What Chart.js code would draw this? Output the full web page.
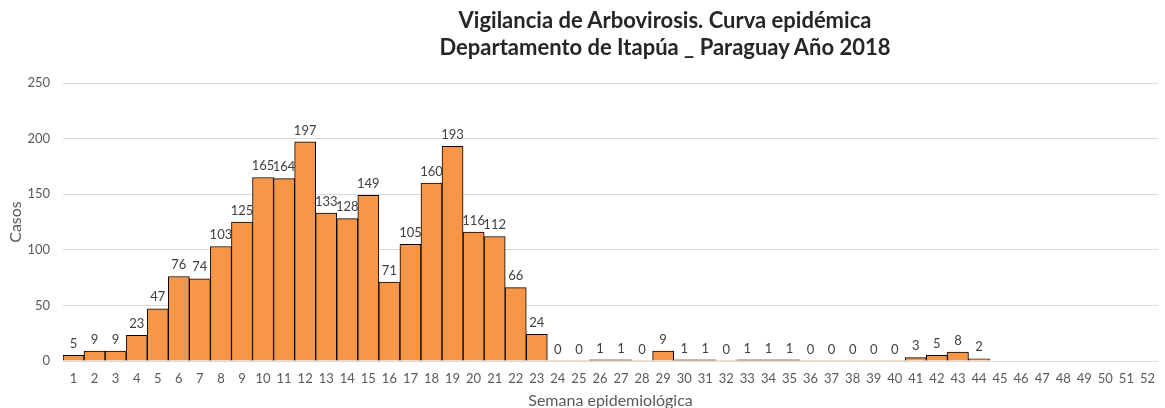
<!DOCTYPE html>
<html>
<head>
<meta charset="utf-8">
<script src="https://cdn.jsdelivr.net/npm/chart.js@4"></script>
<style>
  html, body { margin: 0; padding: 0; background: #fff; overflow: hidden; }
  #wrap { position: relative; width: 1165px; height: 408px; overflow: hidden; }
  #title {
    position: absolute; left: 315px; width: 700px; top: 6px;
    text-align: center; font-family: Lato, sans-serif; font-weight: bold;
    font-size: 22px; line-height: 27px; color: #262626;
  }
</style>
</head>
<body>
<div id="wrap">
  <canvas id="chart" width="1165" height="408"></canvas>
  <div id="title">Vigilancia de Arbovirosis. Curva epidémica<br>Departamento de Itapúa _ Paraguay Año 2018</div>
</div>
<script>
const semanas = [];
for (let i = 1; i <= 52; i++) semanas.push(String(i));

const casos = [
  5, 9, 9, 23, 47, 76, 74, 103, 125, 165,
  164, 197, 133, 128, 149, 71, 105, 160, 193, 116,
  112, 66, 24, 0, 0, 1, 1, 0, 9, 1,
  1, 0, 1, 1, 1, 0, 0, 0, 0, 0,
  3, 5, 8, 2, null, null, null, null, null, null,
  null, null
];

const yTicks = [0, 50, 100, 150, 200, 250];

// Draw the value above each bar
const valueLabels = {
  id: "valueLabels",
  afterDatasetsDraw(chart) {
    const ctx = chart.ctx;
    const meta = chart.getDatasetMeta(0);
    ctx.save();
    ctx.font = "13px Lato, sans-serif";
    ctx.fillStyle = "#404040";
    ctx.textAlign = "center";
    ctx.textBaseline = "bottom";
    meta.data.forEach((bar, i) => {
      const v = casos[i];
      if (v === null) return;
      ctx.fillText(String(v), bar.x, bar.y - 5);
    });
    ctx.restore();
  },
};

const ctx = document.getElementById("chart").getContext("2d");
new Chart(ctx, {
  type: "bar",
  data: {
    labels: semanas,
    datasets: [
      {
        data: casos,
        backgroundColor: "#F79646",
        borderColor: "#000000",
        borderWidth: (c) => (c.raw ? 1 : 0),
        borderSkipped: "bottom",
        barPercentage: 1,
        categoryPercentage: 1,
      },
    ],
  },
  plugins: [valueLabels],
  options: {
    responsive: false,
    animation: false,
    layout: { padding: { top: 83, right: 0, left: 0, bottom: 0 } },
    scales: {
      x: {
        afterFit: (s) => { s.height = 47; },
        grid: { display: false, drawTicks: false },
        border: { display: true, color: "#d9d9d9", width: 1 },
        ticks: {
          color: "#595959",
          font: { family: "Lato, sans-serif", size: 13 },
          padding: 10,
          autoSkip: false,
          maxRotation: 0,
        },
        title: {
          display: true,
          text: "Semana epidemiológica",
          color: "#595959",
          font: { family: "Lato, sans-serif", size: 16 },
          padding: { top: 0, bottom: -2 },
        },
      },
      y: {
        min: 0,
        max: 250,
        afterFit: (s) => { s.width = 63; },
        afterBuildTicks: (s) => { s.ticks = yTicks.map((v) => ({ value: v })); },
        grid: { color: "#d9d9d9", drawTicks: false },
        border: { display: false },
        ticks: {
          color: "#595959",
          font: { family: "Lato, sans-serif", size: 13 },
          padding: 13,
        },
        title: {
          display: true,
          text: "Casos",
          color: "#595959",
          font: { family: "Lato, sans-serif", size: 16 },
          padding: { top: 6, bottom: 0 },
        },
      },
    },
    plugins: {
      legend: { display: false },
      tooltip: { enabled: false },
    },
  },
});
</script>
</body>
</html>
